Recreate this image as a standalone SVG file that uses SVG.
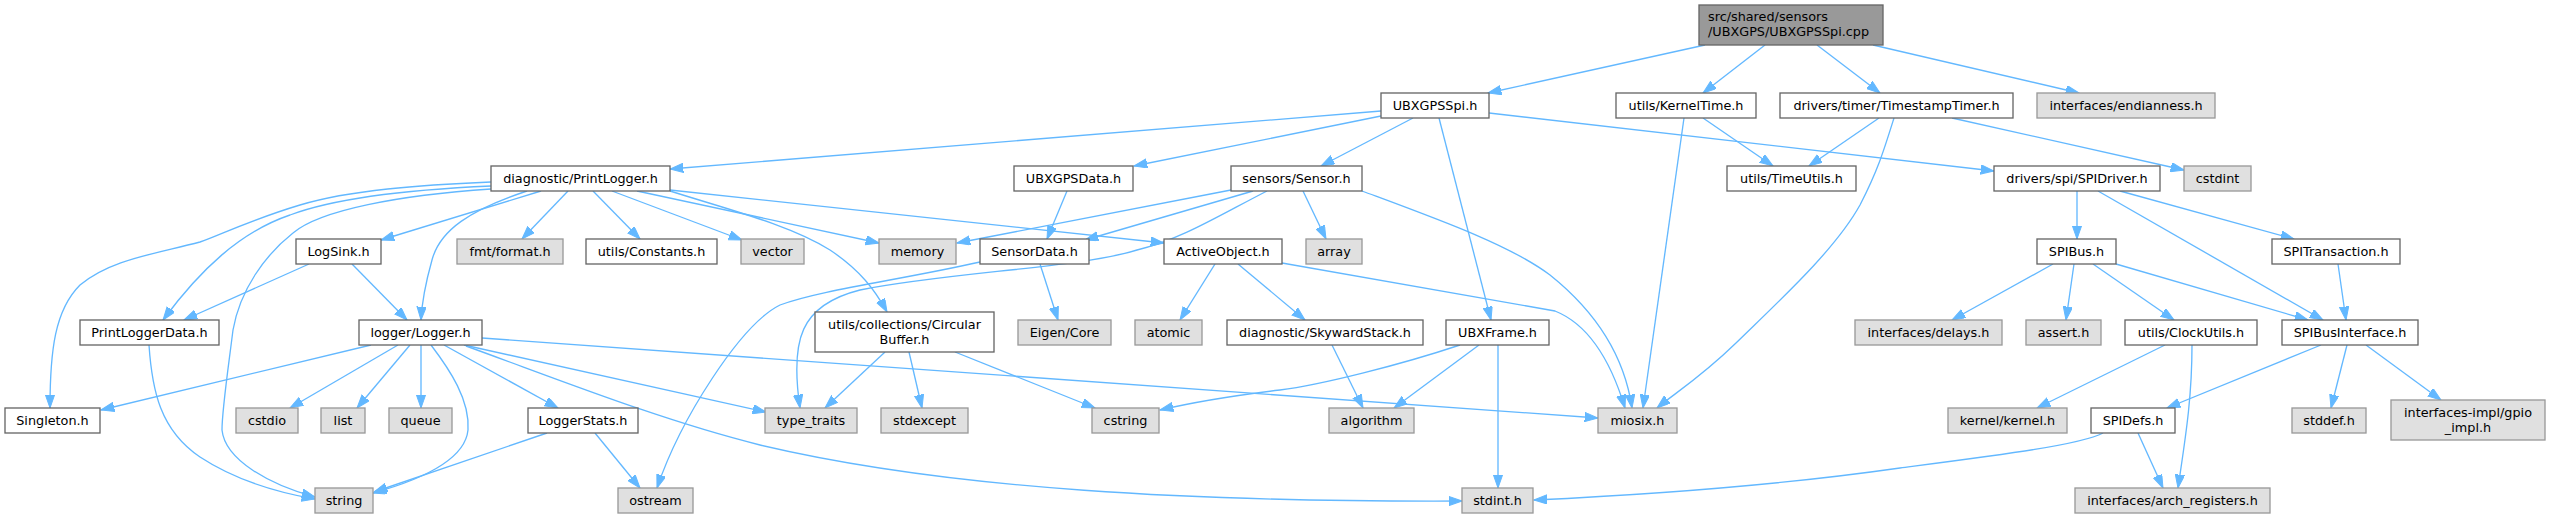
<svg xmlns="http://www.w3.org/2000/svg" width="2549" height="520" viewBox="0 0 2549 520">
<style>
rect{stroke-width:1.33}
.n rect{fill:#ffffff;stroke:#666666}
.g rect{fill:#e0e0e0;stroke:#999999}
.r rect{fill:#999999;stroke:#666666}
text{font-family:"DejaVu Sans","Liberation Sans",sans-serif;font-size:12.8px;text-anchor:middle;fill:#000000}
text.l{text-anchor:start}
#edges path{fill:none;stroke:#63b8ff;stroke-width:1.33;marker-end:url(#a)}
</style>
<defs>
<marker id="a" markerUnits="userSpaceOnUse" markerWidth="14" markerHeight="10" refX="13.3" refY="4.67" orient="auto">
<path d="M0,0 L13.3,4.67 L0,9.33 Z" fill="#63b8ff" stroke="#63b8ff" stroke-width="1"/>
</marker>
</defs>
<rect width="2549" height="520" fill="#ffffff"/>
<g id="edges">
<path d="M1705,45 L1488,93"/>
<path d="M1765,45 L1703,93"/>
<path d="M1817,45 L1880,93"/>
<path d="M1873,45 L2079,93"/>
<path d="M1381,111 L670,169"/>
<path d="M1381,116 L1134,166"/>
<path d="M1413,118 L1321,166"/>
<path d="M1439,118 L1491,320"/>
<path d="M1489,113 L1994,171"/>
<path d="M1703,118 L1773,166"/>
<path d="M1684,118 L1643,408"/>
<path d="M1879,118 L1809,166"/>
<path d="M1894,118 C1884,150 1878,170 1860,205 C1835,250 1780,300 1736,343 C1700,378 1675,393 1657,408"/>
<path d="M1952,118 L2184,170"/>
<path d="M541,191 L381,240"/>
<path d="M568,191 L522,239"/>
<path d="M593,191 L640,239"/>
<path d="M612,191 L742,240"/>
<path d="M637,191 L879,243"/>
<path d="M670,190 L1164,243"/>
<path d="M670,191 C730,210 790,225 830,250 C860,270 875,290 887,312"/>
<path d="M527,191 C470,210 440,230 432,260 C425,285 422,300 421,320"/>
<path d="M491,182 C420,185 350,190 300,205 C250,220 220,235 200,242 C150,255 110,260 80,285 C55,310 50,350 50,408"/>
<path d="M491,186 C400,190 330,200 290,215 C240,232 200,270 163,320"/>
<path d="M491,189 C400,195 320,210 293,233 C265,255 240,290 233,330 C228,370 222,410 222,430 C225,460 270,485 315,497"/>
<path d="M309,264 L184,320"/>
<path d="M352,264 L407,320"/>
<path d="M149,345 C152,390 160,430 200,457 C235,480 275,492 315,499"/>
<path d="M371,345 L101,410"/>
<path d="M398,345 L290,408"/>
<path d="M410,345 L357,408"/>
<path d="M421,345 L421,408"/>
<path d="M431,345 C450,370 470,400 468,430 C465,460 420,480 373,493"/>
<path d="M444,345 L558,408"/>
<path d="M547,433 L374,492"/>
<path d="M595,433 L640,488"/>
<path d="M464,345 L766,412"/>
<path d="M466,346 C560,380 660,420 760,445 C950,490 1200,502 1462,501"/>
<path d="M482,338 L1598,418"/>
<path d="M885,352 L825,408"/>
<path d="M909,352 L922,408"/>
<path d="M955,352 L1095,408"/>
<path d="M1067,191 L1047,239"/>
<path d="M1231,190 L957,243"/>
<path d="M1253,191 L1085,240"/>
<path d="M1267,191 C1220,215 1180,240 1137,250 C1080,268 950,272 860,290 C800,305 790,340 800,408"/>
<path d="M980,262 C900,280 820,290 780,305 C740,325 680,420 657,488"/>
<path d="M1040,264 L1058,320"/>
<path d="M1215,264 L1180,320"/>
<path d="M1238,264 L1305,320"/>
<path d="M1282,263 L1555,311 C1590,325 1612,365 1625,408"/>
<path d="M1362,191 C1440,220 1510,245 1550,275 C1600,315 1625,360 1632,408"/>
<path d="M1303,191 L1326,239"/>
<path d="M1460,345 C1400,365 1320,385 1280,390 C1230,396 1190,403 1160,410"/>
<path d="M1479,345 L1394,408"/>
<path d="M1498,345 L1498,488"/>
<path d="M1332,345 L1363,408"/>
<path d="M2077,191 L2077,239"/>
<path d="M2098,191 L2323,320"/>
<path d="M2120,191 L2294,239"/>
<path d="M2053,264 L1952,320"/>
<path d="M2074,264 L2066,320"/>
<path d="M2093,264 L2174,320"/>
<path d="M2116,264 L2308,320"/>
<path d="M2338,264 L2346,320"/>
<path d="M2165,345 L2037,408"/>
<path d="M2192,345 C2192,400 2185,440 2178,488"/>
<path d="M2321,345 L2167,408"/>
<path d="M2347,345 L2331,408"/>
<path d="M2366,345 L2441,400"/>
<path d="M2138,433 L2163,488"/>
<path d="M2103,433 C2080,445 2000,455 1900,468 C1760,488 1620,496 1534,500"/>
</g>
<g id="n0" class="r"><rect x="1699" y="5" width="184" height="40"/><text class="l" x="1708" y="21">src/shared/sensors</text><text class="l" x="1708" y="36">/UBXGPS/UBXGPSSpi.cpp</text></g>
<g id="n1" class="n"><rect x="1381" y="93" width="108" height="25"/><text x="1435" y="110">UBXGPSSpi.h</text></g>
<g id="n2" class="n"><rect x="1616" y="93" width="140" height="25"/><text x="1686" y="110">utils/KernelTime.h</text></g>
<g id="n3" class="n"><rect x="1780" y="93" width="233" height="25"/><text x="1896.5" y="110">drivers/timer/TimestampTimer.h</text></g>
<g id="n4" class="g"><rect x="2037" y="93" width="178" height="25"/><text x="2126" y="110">interfaces/endianness.h</text></g>
<g id="n5" class="n"><rect x="491" y="166" width="179" height="25"/><text x="580.5" y="183">diagnostic/PrintLogger.h</text></g>
<g id="n6" class="n"><rect x="1014" y="166" width="119" height="25"/><text x="1073.5" y="183">UBXGPSData.h</text></g>
<g id="n7" class="n"><rect x="1231" y="166" width="131" height="25"/><text x="1296.5" y="183">sensors/Sensor.h</text></g>
<g id="n8" class="n"><rect x="1727" y="166" width="129" height="25"/><text x="1791.5" y="183">utils/TimeUtils.h</text></g>
<g id="n9" class="n"><rect x="1994" y="166" width="166" height="25"/><text x="2077" y="183">drivers/spi/SPIDriver.h</text></g>
<g id="n10" class="g"><rect x="2184" y="166" width="67" height="25"/><text x="2217.5" y="183">cstdint</text></g>
<g id="n11" class="n"><rect x="296" y="239" width="85" height="25"/><text x="338.5" y="256">LogSink.h</text></g>
<g id="n12" class="g"><rect x="457" y="239" width="106" height="25"/><text x="510" y="256">fmt/format.h</text></g>
<g id="n13" class="n"><rect x="586" y="239" width="131" height="25"/><text x="651.5" y="256">utils/Constants.h</text></g>
<g id="n14" class="g"><rect x="741" y="239" width="63" height="25"/><text x="772.5" y="256">vector</text></g>
<g id="n15" class="g"><rect x="879" y="239" width="77" height="25"/><text x="917.5" y="256">memory</text></g>
<g id="n16" class="n"><rect x="980" y="239" width="109" height="25"/><text x="1034.5" y="256">SensorData.h</text></g>
<g id="n17" class="n"><rect x="1164" y="239" width="118" height="25"/><text x="1223" y="256">ActiveObject.h</text></g>
<g id="n18" class="g"><rect x="1306" y="239" width="56" height="25"/><text x="1334" y="256">array</text></g>
<g id="n19" class="n"><rect x="2037" y="239" width="79" height="25"/><text x="2076.5" y="256">SPIBus.h</text></g>
<g id="n20" class="n"><rect x="2272" y="239" width="128" height="25"/><text x="2336" y="256">SPITransaction.h</text></g>
<g id="n21" class="n"><rect x="80" y="320" width="139" height="25"/><text x="149.5" y="337">PrintLoggerData.h</text></g>
<g id="n22" class="n"><rect x="359" y="320" width="123" height="25"/><text x="420.5" y="337">logger/Logger.h</text></g>
<g id="n23" class="n"><rect x="815" y="312" width="179" height="40"/><text x="904.5" y="329">utils/collections/Circular</text><text x="904.5" y="344">Buffer.h</text></g>
<g id="n24" class="g"><rect x="1018" y="320" width="93" height="25"/><text x="1064.5" y="337">Eigen/Core</text></g>
<g id="n25" class="g"><rect x="1135" y="320" width="67" height="25"/><text x="1168.5" y="337">atomic</text></g>
<g id="n26" class="n"><rect x="1227" y="320" width="196" height="25"/><text x="1325" y="337">diagnostic/SkywardStack.h</text></g>
<g id="n27" class="n"><rect x="1446" y="320" width="103" height="25"/><text x="1497.5" y="337">UBXFrame.h</text></g>
<g id="n28" class="g"><rect x="1855" y="320" width="147" height="25"/><text x="1928.5" y="337">interfaces/delays.h</text></g>
<g id="n29" class="g"><rect x="2026" y="320" width="75" height="25"/><text x="2063.5" y="337">assert.h</text></g>
<g id="n30" class="n"><rect x="2125" y="320" width="132" height="25"/><text x="2191" y="337">utils/ClockUtils.h</text></g>
<g id="n31" class="n"><rect x="2282" y="320" width="136" height="25"/><text x="2350" y="337">SPIBusInterface.h</text></g>
<g id="n32" class="n"><rect x="5" y="408" width="95" height="25"/><text x="52.5" y="425">Singleton.h</text></g>
<g id="n33" class="g"><rect x="236" y="408" width="62" height="25"/><text x="267" y="425">cstdio</text></g>
<g id="n34" class="g"><rect x="321" y="408" width="44" height="25"/><text x="343" y="425">list</text></g>
<g id="n35" class="g"><rect x="389" y="408" width="63" height="25"/><text x="420.5" y="425">queue</text></g>
<g id="n36" class="n"><rect x="528" y="408" width="110" height="25"/><text x="583" y="425">LoggerStats.h</text></g>
<g id="n37" class="g"><rect x="765" y="408" width="92" height="25"/><text x="811" y="425">type_traits</text></g>
<g id="n38" class="g"><rect x="881" y="408" width="87" height="25"/><text x="924.5" y="425">stdexcept</text></g>
<g id="n39" class="g"><rect x="1092" y="408" width="67" height="25"/><text x="1125.5" y="425">cstring</text></g>
<g id="n40" class="g"><rect x="1329" y="408" width="85" height="25"/><text x="1371.5" y="425">algorithm</text></g>
<g id="n41" class="g"><rect x="1598" y="408" width="79" height="25"/><text x="1637.5" y="425">miosix.h</text></g>
<g id="n42" class="g"><rect x="1948" y="408" width="119" height="25"/><text x="2007.5" y="425">kernel/kernel.h</text></g>
<g id="n43" class="n"><rect x="2091" y="408" width="84" height="25"/><text x="2133" y="425">SPIDefs.h</text></g>
<g id="n44" class="g"><rect x="2292" y="408" width="74" height="25"/><text x="2329" y="425">stddef.h</text></g>
<g id="n45" class="g"><rect x="2391" y="400" width="154" height="40"/><text x="2468" y="417">interfaces-impl/gpio</text><text x="2468" y="432">_impl.h</text></g>
<g id="n46" class="g"><rect x="315" y="488" width="58" height="25"/><text x="344" y="505">string</text></g>
<g id="n47" class="g"><rect x="618" y="488" width="75" height="25"/><text x="655.5" y="505">ostream</text></g>
<g id="n48" class="g"><rect x="1462" y="488" width="71" height="25"/><text x="1497.5" y="505">stdint.h</text></g>
<g id="n49" class="g"><rect x="2075" y="488" width="195" height="25"/><text x="2172.5" y="505">interfaces/arch_registers.h</text></g>
</svg>
